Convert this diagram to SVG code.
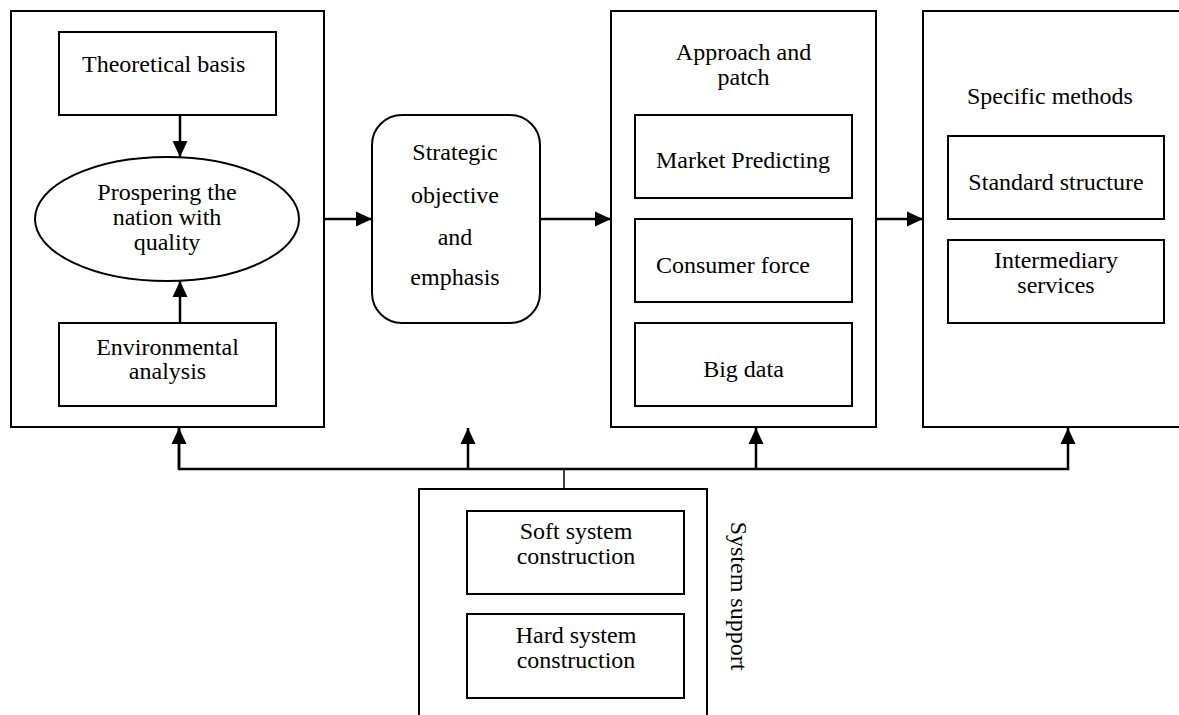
<svg xmlns="http://www.w3.org/2000/svg" width="1179" height="715" viewBox="0 0 1179 715">
<defs>
<style>
.box{fill:#fff;stroke:#000;stroke-width:2}
.ln{fill:none;stroke:#000;stroke-width:2.5}
.t{font-family:"Liberation Serif","Times New Roman",serif;font-size:24px;fill:#000}
.m{text-anchor:middle}
</style>
<marker id="ah" markerUnits="userSpaceOnUse" markerWidth="16" markerHeight="16" viewBox="0 0 16 16" refX="16" refY="8" orient="auto">
<path d="M0,0.5 L16,8 L0,15.5 Z" fill="#000"/>
</marker>
</defs>
<rect width="1179" height="715" fill="#fff"/>

<g id="foundation">
<rect class="box" x="11" y="11" width="313" height="416"/>
</g>
<g id="theoretical-basis">
<rect class="box" x="59" y="32" width="217" height="83"/>
<text class="t" x="82" y="72">Theoretical basis</text>
</g>
<g id="prospering">
<ellipse class="box" cx="167" cy="219" rx="132" ry="62"/>
<text class="t m" x="167" y="200">Prospering the</text>
<text class="t m" x="167" y="225">nation with</text>
<text class="t m" x="167" y="250">quality</text>
</g>
<g id="environmental-analysis">
<rect class="box" x="59" y="323" width="217" height="83"/>
<text class="t m" x="167.5" y="355">Environmental</text>
<text class="t m" x="167.5" y="379">analysis</text>
</g>

<g id="strategic-objective">
<rect class="box" x="372" y="115" width="168" height="208" rx="30" ry="30"/>
<text class="t m" x="455" y="160">Strategic</text>
<text class="t m" x="455" y="203">objective</text>
<text class="t m" x="455" y="245">and</text>
<text class="t m" x="455" y="285">emphasis</text>
</g>

<g id="approach">
<rect class="box" x="611" y="11" width="265" height="416"/>
<text class="t m" x="743.5" y="60">Approach and</text>
<text class="t m" x="743.5" y="85">patch</text>
</g>
<g id="market-predicting">
<rect class="box" x="635" y="115" width="217" height="83"/>
<text class="t" x="656" y="168">Market Predicting</text>
</g>
<g id="consumer-force">
<rect class="box" x="635" y="219" width="217" height="83"/>
<text class="t" x="656" y="273">Consumer force</text>
</g>
<g id="big-data">
<rect class="box" x="635" y="323" width="217" height="83"/>
<text class="t m" x="743.5" y="377">Big data</text>
</g>

<g id="specific-methods">
<rect class="box" x="923" y="11" width="270" height="416"/>
<text class="t" x="967" y="104">Specific methods</text>
</g>
<g id="standard-structure">
<rect class="box" x="948" y="136" width="216" height="83"/>
<text class="t m" x="1056" y="190">Standard structure</text>
</g>
<g id="intermediary-services">
<rect class="box" x="948" y="240" width="216" height="83"/>
<text class="t m" x="1056" y="268">Intermediary</text>
<text class="t m" x="1056" y="293">services</text>
</g>

<g id="system-support">
<rect class="box" x="419" y="489" width="288" height="240"/>
<text class="t m" transform="translate(731,596) rotate(90)" x="0" y="0">System support</text>
</g>
<g id="soft-system">
<rect class="box" x="467" y="511" width="217" height="83"/>
<text class="t m" x="576" y="539">Soft system</text>
<text class="t m" x="576" y="564">construction</text>
</g>
<g id="hard-system">
<rect class="box" x="467" y="614" width="217" height="84"/>
<text class="t m" x="576" y="643">Hard system</text>
<text class="t m" x="576" y="668">construction</text>
</g>

<g id="connectors">
<line class="ln" x1="180" y1="115" x2="180" y2="157" marker-end="url(#ah)"/>
<line class="ln" x1="180" y1="323" x2="180" y2="281" marker-end="url(#ah)"/>
<line class="ln" x1="324" y1="219" x2="372" y2="219" marker-end="url(#ah)"/>
<line class="ln" x1="540" y1="219" x2="611" y2="219" marker-end="url(#ah)"/>
<line class="ln" x1="876" y1="219" x2="923" y2="219" marker-end="url(#ah)"/>
<line class="ln" x1="564" y1="489" x2="564" y2="469" style="stroke-width:1.5"/>
<polyline class="ln" points="179,428 179,469 1068,469 1068,428" marker-end="url(#ah)"/>
<line class="ln" x1="179" y1="469" x2="179" y2="428" marker-end="url(#ah)"/>
<line class="ln" x1="468" y1="469" x2="468" y2="428" marker-end="url(#ah)"/>
<line class="ln" x1="756" y1="469" x2="756" y2="428" marker-end="url(#ah)"/>
</g>
</svg>
